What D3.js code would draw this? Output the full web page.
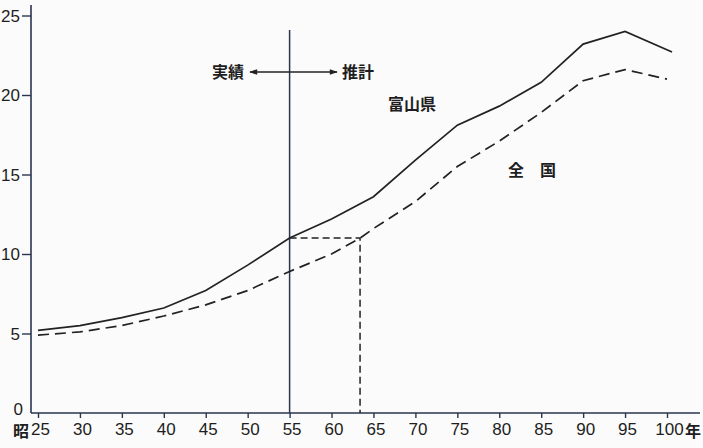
<!DOCTYPE html>
<html><head><meta charset="utf-8">
<script src="https://cdn.jsdelivr.net/npm/d3@7"></script>
<style>
html,body{margin:0;padding:0;background:#fbfbfb;}
svg{display:block;}
text{font-family:"Liberation Sans",Arial,sans-serif;fill:#1e1e22;}
.jp{font-family:"Noto Sans CJK JP",sans-serif;font-weight:700;}
</style></head>
<body><svg id="c" width="703" height="448"></svg>
<script>
const years = [25,30,35,40,45,50,55,60,65,70,75,80,85,90,95,100.6];
const toyama = [5.2,5.5,6.0,6.6,7.7,9.3,11.0,12.2,13.6,15.9,18.1,19.3,20.8,23.2,24.0,22.7];
const yearsNat = [25,30,35,40,45,50,55,60,63.4,65,70,75,80,85,90,95,100];
const national = [4.9,5.1,5.5,6.1,6.8,7.7,8.9,10.0,11.0,11.6,13.3,15.5,17.1,18.9,20.9,21.6,21.0];
const xTicks = [25,30,35,40,45,50,55,60,65,70,75,80,85,90,95,100];
const yTicks = [0,5,10,15,20,25];
const divideYear = 55;
const crossYear = 63.4, crossValue = 11.0;
const labels = {actual:"実績", forecast:"推計", toyama:"富山県", nation:"全　国", era:"昭", yearSuffix:"年"};

const svg = d3.select("#c");
const x = d3.scaleLinear().domain([25,100]).range([38,667]);
const y = d3.scaleLinear().domain([0,25]).range([413,15.5]);
const axisColor = "#2b3550";
const ink = "#222";

// y axis
const ya = svg.append("g").attr("transform","translate(31,0)")
  .call(d3.axisLeft(y).tickValues(yTicks).tickSize(9).tickPadding(2));
ya.select(".domain").remove();
ya.selectAll("line").attr("stroke",axisColor).attr("stroke-width",1.4);
ya.selectAll("text").attr("font-size",17).style("fill","#1e1e22").attr("dy","0.34em");
const zeroTick = ya.selectAll(".tick").filter(d=>d===0);
zeroTick.select("line").remove();
zeroTick.select("text").attr("dy","0.1em").attr("x",-8);
svg.append("line").attr("x1",31).attr("x2",31).attr("y1",5).attr("y2",y(0))
  .attr("stroke",axisColor).attr("stroke-width",1.6);

// x axis
const xa = svg.append("g").attr("transform",`translate(0,${y(0)})`)
  .call(d3.axisBottom(x).tickValues(xTicks).tickSize(5).tickPadding(5));
xa.select(".domain").remove();
xa.selectAll("line").attr("stroke",axisColor).attr("stroke-width",1.4);
xa.selectAll("text").attr("font-size",17).style("fill","#1e1e22").attr("dx",2);
svg.append("line").attr("x1",31).attr("x2",700).attr("y1",y(0)).attr("y2",y(0))
  .attr("stroke",axisColor).attr("stroke-width",1.6);
svg.append("text").attr("class","jp").attr("x",x(25)-9).attr("y",y(0)+24)
  .attr("text-anchor","end").attr("font-size",16).attr("font-weight",400).text(labels.era);
svg.append("text").attr("class","jp").attr("x",x(100)+18).attr("y",y(0)+24)
  .attr("text-anchor","start").attr("font-size",16).attr("font-weight",400).text(labels.yearSuffix);

// divide line
svg.append("line").attr("x1",x(divideYear)).attr("x2",x(divideYear))
  .attr("y1",30).attr("y2",y(0)).attr("stroke",axisColor).attr("stroke-width",1.5);

// arrows
const defs = svg.append("defs");
defs.append("marker").attr("id","ah").attr("viewBox","0 0 10 10").attr("refX",9).attr("refY",5)
  .attr("markerWidth",10).attr("markerHeight",8).attr("orient","auto-start-reverse")
  .attr("markerUnits","userSpaceOnUse")
  .append("path").attr("d","M0,1.5 L10,5 L0,8.5 Z").attr("fill",ink);
const ay = 72;
svg.append("line").attr("x1",250).attr("x2",337).attr("y1",ay).attr("y2",ay)
  .attr("stroke",ink).attr("stroke-width",1.5)
  .attr("marker-start","url(#ah)").attr("marker-end","url(#ah)");
svg.append("text").attr("class","jp").attr("x",244).attr("y",ay).attr("dy","0.36em")
  .attr("text-anchor","end").attr("font-size",16).text(labels.actual);
svg.append("text").attr("class","jp").attr("x",342).attr("y",ay).attr("dy","0.36em")
  .attr("text-anchor","start").attr("font-size",16).text(labels.forecast);

// reference dashed lines
svg.append("path")
  .attr("d",`M${x(divideYear)},${y(crossValue)} L${x(crossYear)},${y(crossValue)} L${x(crossYear)},${y(0)}`)
  .attr("fill","none").attr("stroke",ink).attr("stroke-width",1.5).attr("stroke-dasharray","7,4");

// series
const line = d3.line().x(d=>x(d[0])).y(d=>y(d[1])).curve(d3.curveLinear);
svg.append("path").datum(years.map((v,i)=>[v,toyama[i]]))
  .attr("d",line).attr("fill","none").attr("stroke",ink).attr("stroke-width",1.7);
svg.append("path").datum(yearsNat.map((v,i)=>[v,national[i]]))
  .attr("d",line).attr("fill","none").attr("stroke",ink).attr("stroke-width",1.7)
  .attr("stroke-dasharray","11,6");

svg.append("text").attr("class","jp").attr("x",388).attr("y",104).attr("dy","0.36em")
  .attr("font-size",16).text(labels.toyama);
svg.append("text").attr("class","jp").attr("x",508).attr("y",170).attr("dy","0.36em")
  .attr("font-size",16).text(labels.nation);
</script></body></html>
